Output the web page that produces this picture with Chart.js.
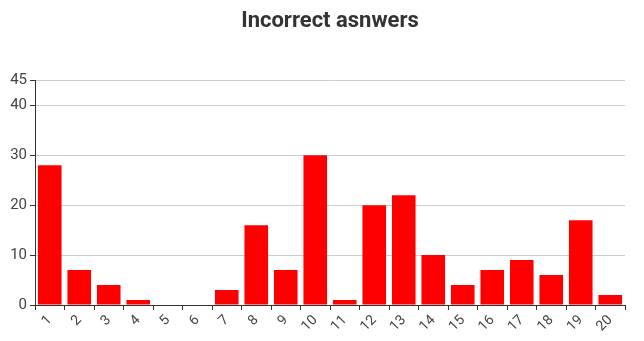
<!DOCTYPE html>
<html><head><meta charset="utf-8">
<script src="https://cdn.jsdelivr.net/npm/chart.js@4"></script>
<style>html,body{margin:0;padding:0;background:#fff}#wrap{width:644px;height:341px;position:relative}</style>
</head><body><div id="wrap"><canvas id="c" width="644" height="341"></canvas></div>
<script>
const titleText = "Incorrect asnwers";
const categories = ["1","2","3","4","5","6","7","8","9","10","11","12","13","14","15","16","17","18","19","20"];
const incorrect = [28,7,4,1,0,0,3,16,7,30,1,20,22,10,4,7,9,6,17,2];
const yMax = 45;
const yStep = 10;

new Chart(document.getElementById('c'), {
  type: 'bar',
  data: { labels: categories, datasets: [{ label: 'Incorrect', data: incorrect, backgroundColor: '#ff0000', barPercentage: 0.8, categoryPercentage: 1.0 }] },
  options: {
    responsive: false, animation: false,
    layout: { padding: { left: 0, right: 19, top: 0, bottom: 0 } },
    plugins: {
      legend: { display: false },
      tooltip: { enabled: false },
      title: { display: true, fullSize: false, text: titleText, color: '#333', font: { family: 'Roboto', size: 22, weight: 'bold' }, padding: { top: 8, bottom: 46 } }
    },
    scales: {
      x: {
        offset: true,
        grid: { offset: true, drawOnChartArea: false, drawTicks: true, tickLength: 5, color: '#333' },
        border: { color: '#333', width: 1 },
        ticks: { color: '#444', font: { family: 'Roboto', size: 14 }, minRotation: 45, maxRotation: 45, padding: 2, autoSkip: false },
        afterFit: s => { s.height = 36; }
      },
      y: {
        min: 0, max: yMax,
        grid: { color: '#ccc', tickLength: 5, tickColor: '#333', drawTicks: true },
        border: { color: '#333', width: 1 },
        ticks: { stepSize: yStep, color: '#444', font: { family: 'Roboto', size: 15 }, padding: 3 },
        afterFit: s => { s.width = 35; }
      }
    }
  }
});
</script></body></html>
